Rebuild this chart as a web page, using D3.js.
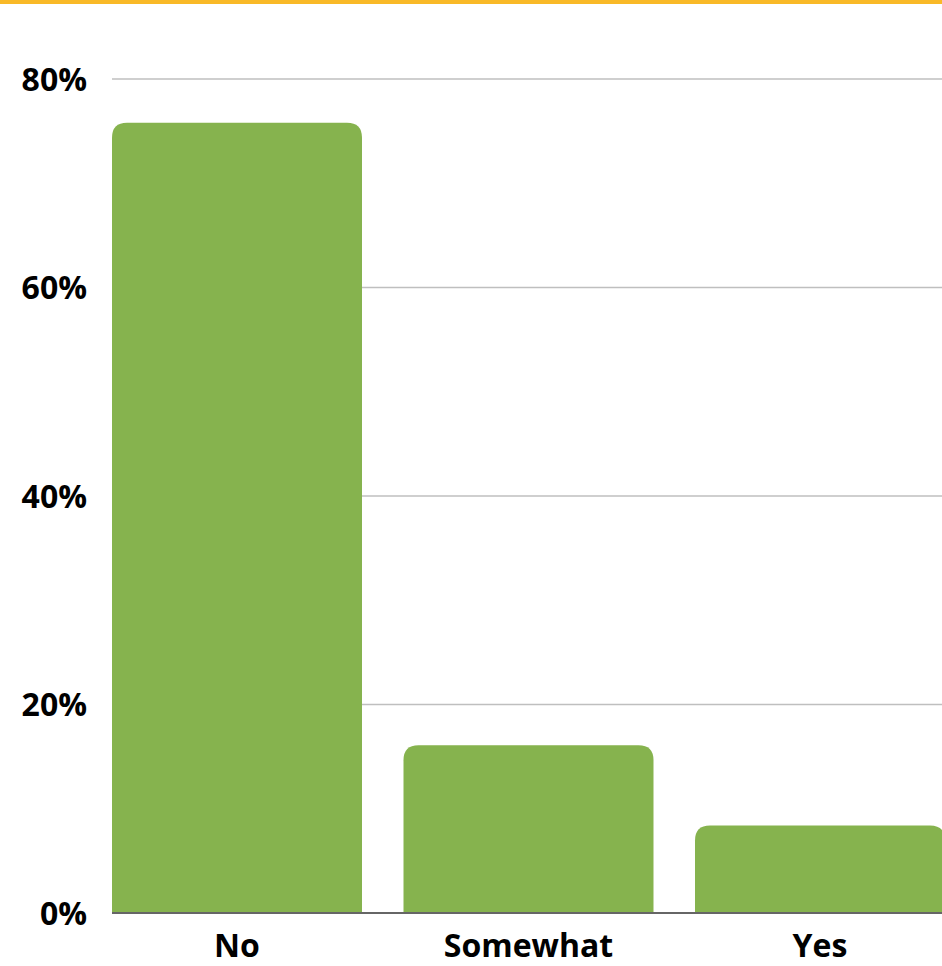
<!DOCTYPE html>
<html>
<head>
<meta charset="utf-8">
<script src="https://cdn.jsdelivr.net/npm/d3@7"></script>
<style>
  body { margin: 0; background: #fff; }
  svg { display: block; font-family: "Open Sans", sans-serif; }
</style>
</head>
<body>
<svg id="viz" width="942" height="966"></svg>
<script>
const categories = ["No", "Somewhat", "Yes"]
const values = [75.8, 16.1, 8.4]
const yTicks = [0, 20, 40, 60, 80]

const svg = d3.select("svg#viz")
const width = +svg.attr("width")
const height = +svg.attr("height")

// top accent stripe
svg.append("rect")
    .attr("x", 0).attr("y", 0)
    .attr("width", width).attr("height", 4)
    .attr("fill", "#f9b927")

const x = d3.scaleBand()
    .domain(categories)
    .range([112, 945])
    .paddingInner(0.1424)
    .paddingOuter(0)

const y = d3.scaleLinear()
    .domain([0, 80])
    .range([913, 79])

// gridlines
svg.append("g").selectAll("line.grid").data(yTicks.filter(d => d > 0))
    .join("line")
    .attr("class", "grid")
    .attr("x1", 112).attr("x2", width)
    .attr("y1", d => y(d)).attr("y2", d => y(d))
    .attr("stroke", "#bfbfbf")
    .attr("stroke-width", 1.5)

// y labels
svg.append("g").selectAll("text.ylab").data(yTicks)
    .join("text")
    .attr("class", "ylab")
    .attr("x", 87)
    .attr("y", d => y(d))
    .attr("dy", "0.36em")
    .attr("text-anchor", "end")
    .attr("font-size", 32)
    .attr("font-weight", 700)
    .attr("fill", "#000")
    .text(d => d + "%")

// bars with rounded top corners
const r = 15
function barPath(d, i) {
    const x0 = x(categories[i]), w = x.bandwidth()
    const y0 = y(d), yb = y(0)
    return `M${x0},${yb}V${y0 + r}Q${x0},${y0} ${x0 + r},${y0}H${x0 + w - r}Q${x0 + w},${y0} ${x0 + w},${y0 + r}V${yb}Z`
}
svg.append("g").selectAll("path.bar").data(values)
    .join("path")
    .attr("class", "bar")
    .attr("d", barPath)
    .attr("fill", "#86b34e")

// baseline
svg.append("line")
    .attr("x1", 112).attr("x2", width)
    .attr("y1", y(0)).attr("y2", y(0))
    .attr("stroke", "#666")
    .attr("stroke-width", 2)

// x labels
svg.append("g").selectAll("text.xlab").data(categories)
    .join("text")
    .attr("class", "xlab")
    .attr("x", d => x(d) + x.bandwidth() / 2)
    .attr("y", 957)
    .attr("text-anchor", "middle")
    .attr("font-size", 32)
    .attr("font-weight", 700)
    .attr("fill", "#000")
    .text(d => d)
</script>
</body>
</html>
